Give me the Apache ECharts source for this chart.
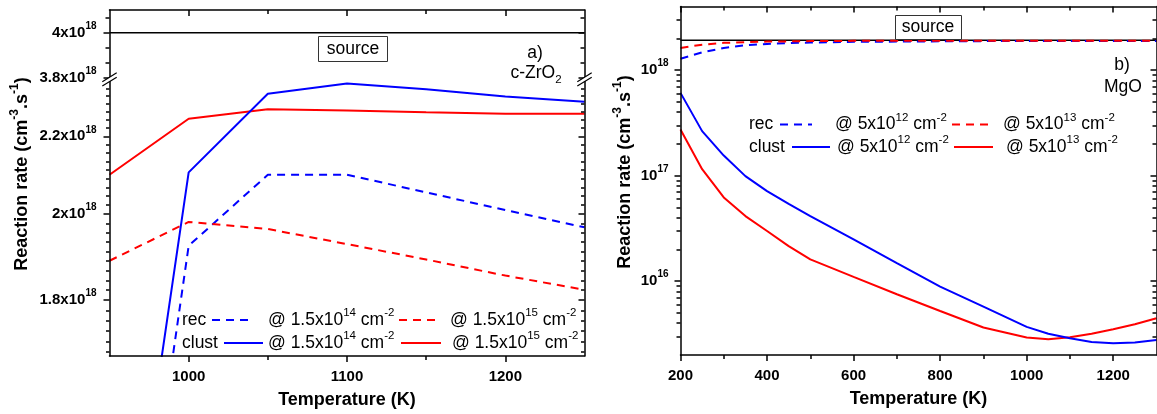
<!DOCTYPE html>
<html><head><meta charset="utf-8">
<script src="https://cdn.jsdelivr.net/npm/echarts@6/dist/echarts.min.js"></script>
<style>html,body{margin:0;padding:0;background:#fff;}#c{width:1157px;height:414px;}</style>
</head><body><div id="c"></div>
<script>
// ---------------- DATA ----------------
// Panel a) c-ZrO2 — reaction rates in units of 1e18 cm^-3 s^-1
const tempA = [950, 1000, 1050, 1100, 1150, 1200, 1250];
const recA_1p5e14   = [0.98, 1.924, 2.099, 2.099, 2.054, 2.010, 1.968];
const recA_1p5e15   = [1.889, 1.981, 1.964, 1.928, 1.892, 1.855, 1.823];
const clustA_1p5e14 = [1.084, 2.105, 2.318, 2.347, 2.331, 2.310, 2.295];
const clustA_1p5e15 = [2.099, 2.248, 2.274, 2.271, 2.266, 2.262, 2.262];
const sourceA_T = [950, 1250];
const sourceA   = [4.0, 4.0];

// Panel b) MgO — reaction rates in cm^-3 s^-1
const tempB = [200, 250, 300, 350, 400, 450, 500, 600, 700, 800, 900, 1000, 1050, 1100, 1150, 1200, 1250, 1300];
const recB_5e12   = [1.28e18, 1.47e18, 1.62e18, 1.72e18, 1.77e18, 1.80e18, 1.82e18, 1.85e18, 1.86e18, 1.87e18, 1.88e18, 1.88e18, 1.88e18, 1.88e18, 1.88e18, 1.88e18, 1.88e18, 1.88e18];
const recB_5e13   = [1.62e18, 1.74e18, 1.81e18, 1.84e18, 1.86e18, 1.87e18, 1.88e18, 1.89e18, 1.89e18, 1.89e18, 1.89e18, 1.89e18, 1.89e18, 1.89e18, 1.89e18, 1.89e18, 1.89e18, 1.89e18];
const clustB_5e12 = [6.08e17, 2.64e17, 1.55e17, 9.89e16, 7.13e16, 5.39e16, 4.14e16, 2.49e16, 1.48e16, 8.9e15, 5.75e15, 3.69e15, 3.18e15, 2.88e15, 2.66e15, 2.59e15, 2.63e15, 2.78e15];
const clustB_5e13 = [2.74e17, 1.15e17, 6.22e16, 4.14e16, 2.99e16, 2.15e16, 1.61e16, 1.10e16, 7.52e15, 5.22e15, 3.64e15, 2.93e15, 2.82e15, 2.94e15, 3.18e15, 3.51e15, 3.91e15, 4.46e15];
const sourceB_T = [200, 1300];
const sourceB   = [1.92e18, 1.92e18];

// Tick values
const xTicksA = [1000, 1100, 1200];
const xMinorA = [1050, 1150];
const yTicksA_top = [3.8, 4.0];
const yMinorA_top = [3.8667, 3.9333, 4.0667];
const yTicksA_low = [1.8, 2.0, 2.2];
const yMinorA_low = [];
for (let k = -5; k <= 25; k++) { if (k % 9 !== 0) yMinorA_low.push(+(1.8 + k * 0.2 / 9).toFixed(4)); }
const xTicksB = [200, 400, 600, 800, 1000, 1200];
const xMinorB = [300, 500, 700, 900, 1100];
const yTicksB = [1e16, 1e17, 1e18];
const yMinorB = [3e15, 4e15, 5e15, 6e15, 7e15, 8e15, 9e15, 2e16, 3e16, 4e16, 5e16, 6e16, 7e16, 8e16, 9e16,
                 2e17, 3e17, 4e17, 5e17, 6e17, 7e17, 8e17, 9e17, 2e18, 3e18];

// ---------------- STYLE ----------------
const FONT = "'Liberation Sans', Arial, Helvetica, sans-serif";
const BLUE = '#0000ff', RED = '#ff0000', BLACK = '#000000';
const DASH = [8, 6];

const LABEL_RICH = {
  b: { fontSize: 15, fontWeight: 'bold', fontFamily: FONT, color: BLACK },
  s: { fontSize: 10, fontWeight: 'bold', fontFamily: FONT, color: BLACK, padding: [0, 0, 13, 0] }
};
const TXT_RICH = {
  t: { fontSize: 17.5, fontFamily: FONT, color: BLACK },
  s: { fontSize: 11.5, fontFamily: FONT, color: BLACK, padding: [0, 0, 14, 0] },
  d: { fontSize: 11.5, fontFamily: FONT, color: BLACK, padding: [13, 0, 0, 0] }
};
const TITLE_RICH = {
  t: { fontSize: 18, fontWeight: 'bold', fontFamily: FONT, color: BLACK },
  s: { fontSize: 12, fontWeight: 'bold', fontFamily: FONT, color: BLACK, padding: [0, 0, 15, 0] }
};

function num(v) { return String(parseFloat((+v).toFixed(3))); }
const fmtE18 = v => '{b|' + num(v) + 'x10}{s|18}';
const fmtPow = v => '{b|10}{s|' + Math.round(Math.log10(v)) + '}';
const fmtPlain = v => '{b|' + v + '}';

function mkAxis(o) {
  const a = {
    gridIndex: o.grid, position: o.pos, type: o.type || 'value', min: o.min, max: o.max,
    axisLine: { show: o.line !== false, onZero: false, lineStyle: { color: BLACK, width: 1.5 } },
    axisTick: { show: true, inside: !!o.inside, length: o.len, customValues: o.ticks, lineStyle: { color: BLACK, width: 1.5 } },
    axisLabel: o.fmt ? { show: true, customValues: o.ticks, formatter: o.fmt, margin: o.margin || 13, rich: LABEL_RICH,
                         fontSize: 15, fontWeight: 'bold', fontFamily: FONT, color: BLACK }
                     : { show: false, customValues: o.ticks },
    splitLine: { show: false }, minorTick: { show: false }, minorSplitLine: { show: false },
    silent: true, z: 5
  };
  if (a.type === 'log') a.logBase = 10;
  if (o.name) {
    a.name = o.name; a.nameLocation = 'middle'; a.nameGap = o.nameGap;
    a.nameTextStyle = { fontSize: 18, fontWeight: 'bold', fontFamily: FONT, color: BLACK };
  }
  return a;
}

function mkLine(name, xs, ys, xi, yi, color, dashed, width) {
  return {
    type: 'line', name, xAxisIndex: xi, yAxisIndex: yi,
    data: xs.map((x, i) => [x, ys[i]]),
    symbol: 'none', showSymbol: false, smooth: false, clip: true, silent: true,
    lineStyle: { color, width: width || 2, type: dashed ? DASH : 'solid' },
    itemStyle: { color }, emphasis: { disabled: true }, z: 3
  };
}

// ---------------- GRIDS / AXES ----------------
const grids = [
  { left: 109.5, top: 10, width: 475, height: 68, show: false },     // a) upper segment
  { left: 109.5, top: 78, width: 475, height: 278, show: false },    // a) lower segment
  { left: 680.5, top: 6.5, width: 476, height: 348.5, show: false }  // b)
];

const xAxes = [
  mkAxis({ grid: 0, pos: 'top', min: 950, max: 1250, ticks: xTicksA, len: 6, inside: true }),
  mkAxis({ grid: 0, pos: 'top', min: 950, max: 1250, ticks: xMinorA, len: 4, inside: true, line: false }),
  mkAxis({ grid: 1, pos: 'bottom', min: 950, max: 1250, ticks: xTicksA, len: 6, fmt: fmtPlain, margin: 13, name: 'Temperature (K)', nameGap: 35 }),
  mkAxis({ grid: 1, pos: 'bottom', min: 950, max: 1250, ticks: xMinorA, len: 4, line: false }),
  mkAxis({ grid: 2, pos: 'bottom', min: 200, max: 1300, ticks: xTicksB, len: 6, fmt: fmtPlain, margin: 13, name: 'Temperature (K)', nameGap: 35 }),
  mkAxis({ grid: 2, pos: 'bottom', min: 200, max: 1300, ticks: xMinorB, len: 4, line: false }),
  mkAxis({ grid: 2, pos: 'top', min: 200, max: 1300, ticks: xTicksB, len: 6, inside: true }),
  mkAxis({ grid: 2, pos: 'top', min: 200, max: 1300, ticks: xMinorB, len: 4, inside: true, line: false })
];

const yAxes = [
  mkAxis({ grid: 0, pos: 'left', min: 3.8, max: 4.1, ticks: yTicksA_top, len: 6, fmt: fmtE18 }),
  mkAxis({ grid: 0, pos: 'left', min: 3.8, max: 4.1, ticks: yMinorA_top, len: 4, line: false }),
  mkAxis({ grid: 0, pos: 'right', min: 3.8, max: 4.1, ticks: yTicksA_top, len: 6, inside: true }),
  mkAxis({ grid: 0, pos: 'right', min: 3.8, max: 4.1, ticks: yMinorA_top, len: 4, inside: true, line: false }),
  mkAxis({ grid: 1, pos: 'left', type: 'log', min: 1.681, max: 2.363, ticks: yTicksA_low, len: 6, fmt: fmtE18 }),
  mkAxis({ grid: 1, pos: 'left', type: 'log', min: 1.681, max: 2.363, ticks: yMinorA_low, len: 3.5, line: false }),
  mkAxis({ grid: 1, pos: 'right', type: 'log', min: 1.681, max: 2.363, ticks: yTicksA_low, len: 6, inside: true }),
  mkAxis({ grid: 1, pos: 'right', type: 'log', min: 1.681, max: 2.363, ticks: yMinorA_low, len: 3.5, inside: true, line: false }),
  mkAxis({ grid: 2, pos: 'left', type: 'log', min: 2e15, max: 4e18, ticks: yTicksB, len: 6, fmt: fmtPow, margin: 12 }),
  mkAxis({ grid: 2, pos: 'left', type: 'log', min: 2e15, max: 4e18, ticks: yMinorB, len: 4, line: false }),
  mkAxis({ grid: 2, pos: 'right', type: 'log', min: 2e15, max: 4e18, ticks: yTicksB, len: 6, inside: true }),
  mkAxis({ grid: 2, pos: 'right', type: 'log', min: 2e15, max: 4e18, ticks: yMinorB, len: 4, inside: true, line: false })
];

// ---------------- SERIES ----------------
const series = [
  mkLine('source a', sourceA_T, sourceA, 0, 0, BLACK, false, 1.5),
  mkLine('rec 1.5e14', tempA, recA_1p5e14, 2, 4, BLUE, true),
  mkLine('rec 1.5e15', tempA, recA_1p5e15, 2, 4, RED, true),
  mkLine('clust 1.5e15', tempA, clustA_1p5e15, 2, 4, RED, false),
  mkLine('clust 1.5e14', tempA, clustA_1p5e14, 2, 4, BLUE, false),
  mkLine('source b', sourceB_T, sourceB, 4, 8, BLACK, false, 1.5),
  mkLine('rec 5e12', tempB, recB_5e12, 4, 8, BLUE, true),
  mkLine('rec 5e13', tempB, recB_5e13, 4, 8, RED, true),
  mkLine('clust 5e13', tempB, clustB_5e13, 4, 8, RED, false),
  mkLine('clust 5e12', tempB, clustB_5e12, 4, 8, BLUE, false)
];

// ---------------- ANNOTATIONS (legend, labels, axis breaks) ----------------
function txt(x, y, text, align, rich) {
  return { type: 'text', x, y, z: 100, silent: true,
           style: { text, rich: rich || TXT_RICH, align: align || 'left', verticalAlign: 'middle',
                    fontSize: 17.5, fontFamily: FONT, fill: BLACK } };
}
function seg(x1, x2, y, color, dashed) {
  return { type: 'line', z: 100, silent: true, shape: { x1, y1: y, x2, y2: y },
           style: { stroke: color, lineWidth: 2, lineDash: dashed ? DASH : null } };
}
function box(x, y, w, h) {
  return { type: 'rect', z: 99, silent: true, shape: { x, y, width: w, height: h },
           style: { fill: '#fff', stroke: '#333', lineWidth: 1 } };
}
function brk(ax) {
  const p = [[ax - 7.2, 86], [ax + 7.2, 77.3], [ax + 7.2, 72.7], [ax - 7.2, 81.7]];
  return [
    { type: 'polygon', z: 100, silent: true, shape: { points: p }, style: { fill: '#fff', stroke: null } },
    { type: 'line', z: 101, silent: true, shape: { x1: p[0][0], y1: p[0][1], x2: p[1][0], y2: p[1][1] }, style: { stroke: BLACK, lineWidth: 1.2 } },
    { type: 'line', z: 101, silent: true, shape: { x1: p[3][0], y1: p[3][1], x2: p[2][0], y2: p[2][1] }, style: { stroke: BLACK, lineWidth: 1.2 } }
  ];
}
const lab14 = '{t|@ 1.5x10}{s|14}{t| cm}{s|-2}';
const lab15 = '{t|@ 1.5x10}{s|15}{t| cm}{s|-2}';
const lab12 = '{t|@ 5x10}{s|12}{t| cm}{s|-2}';
const lab13 = '{t|@ 5x10}{s|13}{t| cm}{s|-2}';
const yTitle = '{t|Reaction rate (cm}{s|-3}{t|.s}{s|-1}{t|)}';

const graphics = [
  // y titles
  { type: 'text', x: 22, y: 174, rotation: Math.PI / 2, z: 100, silent: true,
    style: { text: yTitle, rich: TITLE_RICH, align: 'center', verticalAlign: 'middle', fill: BLACK } },
  { type: 'text', x: 625, y: 172, rotation: Math.PI / 2, z: 100, silent: true,
    style: { text: yTitle, rich: TITLE_RICH, align: 'center', verticalAlign: 'middle', fill: BLACK } },
  // panel a annotations
  box(318.5, 36.5, 69, 25), txt(353, 49, '{t|source}', 'center'),
  txt(535, 53, '{t|a)}', 'center'), txt(536, 73, '{t|c-ZrO}{d|2}', 'center'),
  // panel a legend
  txt(182, 320, '{t|rec}'), seg(212, 250, 320, BLUE, true), txt(268, 320, lab14),
  seg(399, 439, 320, RED, true), txt(450, 320, lab15),
  txt(182, 343, '{t|clust}'), seg(224, 263, 343, BLUE, false), txt(268, 343, lab14),
  seg(401, 441, 343, RED, false), txt(452, 343, lab15),
  // panel b annotations
  box(895.5, 15.5, 66, 24), txt(928, 27.5, '{t|source}', 'center'),
  txt(1122, 65, '{t|b)}', 'center'), txt(1123, 87, '{t|MgO}', 'center'),
  // panel b legend
  txt(749, 124.5, '{t|rec}'), seg(780, 812, 124.5, BLUE, true), txt(835, 124.5, lab12),
  seg(952, 992, 124.5, RED, true), txt(1003, 124.5, lab13),
  txt(749, 147, '{t|clust}'), seg(792, 830, 147, BLUE, false), txt(837, 147, lab12),
  seg(954, 993, 147, RED, false), txt(1006, 147, lab13)
].concat(brk(109.5), brk(584.5));

const chart = echarts.init(document.getElementById('c'), null, { renderer: 'canvas' });
chart.setOption({
  animation: false,
  backgroundColor: '#ffffff',
  grid: grids,
  xAxis: xAxes,
  yAxis: yAxes,
  series: series,
  graphic: { elements: graphics }
});
</script>
</body></html>
